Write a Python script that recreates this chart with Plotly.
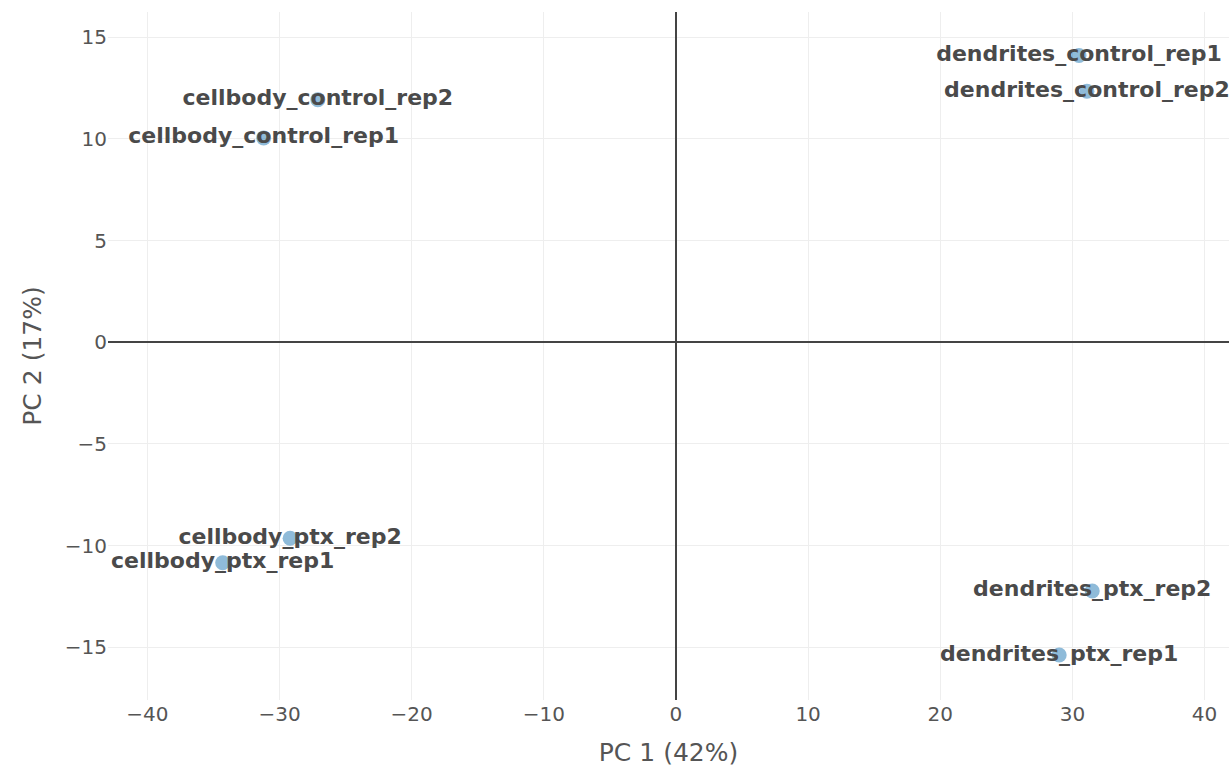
import plotly.graph_objects as go

samples = ["cellbody_control_rep1", "cellbody_control_rep2",
           "cellbody_ptx_rep1", "cellbody_ptx_rep2",
           "dendrites_control_rep1", "dendrites_control_rep2",
           "dendrites_ptx_rep1", "dendrites_ptx_rep2"]
pc1 = [-31.2, -27.1, -34.3, -29.2, 30.5, 31.1, 29.0, 31.5]
pc2 = [10.05, 11.93, -10.84, -9.64, 14.1, 12.34, -15.38, -12.23]

x_title = "PC 1 (42%)"
y_title = "PC 2 (17%)"

FONT = "DejaVu Sans, Verdana, sans-serif"

fig = go.Figure(go.Scatter(
    x=pc1, y=pc2, text=samples, mode="markers+text",
    textposition="middle center",
    marker=dict(size=15, color="rgba(31,119,180,0.5)"),
    textfont=dict(family="DejaVu Sans", size=22, color="#4a4a4a", weight="bold"),
    hoverinfo="text",
))

axis_common = dict(
    showgrid=True, gridcolor="#eee", gridwidth=1,
    zeroline=True, zerolinecolor="#444", zerolinewidth=1.5,
    showline=False, ticks="",
    tickfont=dict(family=FONT, size=20, color="#555"),
)

fig.update_layout(
    width=1229, height=774,
    margin=dict(l=108, r=0, t=12, b=74),
    paper_bgcolor="white", plot_bgcolor="white",
    showlegend=False,
    font=dict(family=FONT, color="#444"),
    xaxis=dict(range=[-42.98, 41.85], dtick=10,
               title=dict(text=x_title, font=dict(family=FONT, size=25, color="#555"), standoff=18),
               **axis_common),
    yaxis=dict(range=[-17.59, 16.24], dtick=5,
               title=dict(text=y_title, font=dict(family=FONT, size=25, color="#555"), standoff=16),
               **axis_common),
)

fig.write_html("out.html")
